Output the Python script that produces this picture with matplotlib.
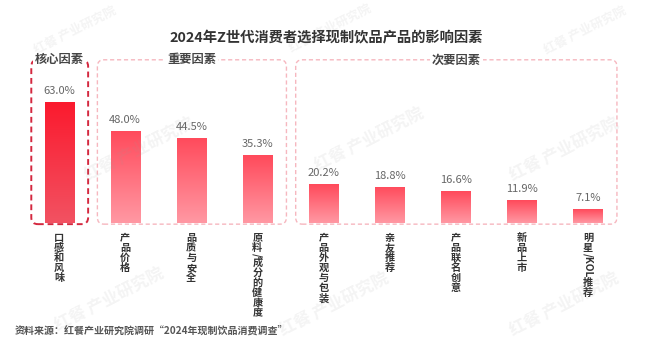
import matplotlib
matplotlib.use('Agg')
import matplotlib.pyplot as plt
import numpy as np
from matplotlib.patches import FancyBboxPatch
from matplotlib.colors import to_rgb

plt.rcParams['font.family'] = ['Noto Sans CJK SC', 'DejaVu Sans']

title = '2024年Z世代消费者选择现制饮品产品的影响因素'
source = '资料来源：红餐产业研究院调研“2024年现制饮品消费调查”'
categories = ['口感和风味', '产品价格', '品质与安全', '原料/成分的健康度', '产品外观与包装',
              '亲友推荐', '产品联名创意', '新品上市', '明星/KOL推荐']
values = [63.0, 48.0, 44.5, 35.3, 20.2, 18.8, 16.6, 11.9, 7.1]
groups = ['核心因素', '重要因素', '次要因素']
group_members = [[0], [1, 2, 3], [4, 5, 6, 7, 8]]

W, H = 660, 358
fig = plt.figure(figsize=(W / 100, H / 100), dpi=100)
px_x = 66.1   # pixels per category
px_y = 1.92   # pixels per percent
ax = fig.add_axes([26 / W, (H - 223) / H, 9 * px_x / W, 90 * px_y / H])
x = np.arange(len(values))
bars = ax.bar(x, values, width=0.44, color='none', edgecolor='none', zorder=2)

# vertical gradient fill for every bar
for i, b in enumerate(bars):
    if i == 0:
        top, bot = to_rgb('#fb1a2e'), to_rgb('#f25262')
    else:
        top, bot = to_rgb('#ff4a5b'), to_rgb('#ff98a3')
    t = np.linspace(0, 1, 128).reshape(-1, 1, 1)
    img = (1 - t) * np.array(top) + t * np.array(bot)
    img = np.repeat(img, 2, axis=1)
    im = ax.imshow(img, extent=[b.get_x(), b.get_x() + b.get_width(), 0, b.get_height()],
                   aspect='auto', zorder=2, interpolation='bilinear')
    im.set_clip_path(b)
    ax.annotate(f'{values[i]:.1f}%', (x[i], values[i]), xytext=(0, 6),
                textcoords='offset pixels', ha='center', va='bottom',
                fontsize=8, color='#666666')

ax.set_xlim(-0.5, 8.5)
ax.set_ylim(0, 90)
ax.axis('off')

# dashed group boxes
for k, (name, mem) in enumerate(zip(groups, group_members)):
    x0, x1 = min(mem) - 0.42, max(mem) + 0.44
    y0, y1 = -0.6, 85
    ec = '#d4283f' if k == 0 else '#f6b7bf'
    lw = 1.4 if k == 0 else 1.0
    box = FancyBboxPatch((x0, y0), x1 - x0, y1 - y0,
                         boxstyle='round,pad=0,rounding_size=0.1',
                         mutation_aspect=px_x / px_y, fill=False, ec=ec, lw=lw,
                         ls=(0, (3, 2)), clip_on=False, zorder=1)
    ax.add_patch(box)
    ax.text((x0 + x1) / 2, y1, name, ha='center', va='center', fontsize=8.8,
            fontweight='bold', color='#444444', zorder=3,
            bbox=dict(fc='white', ec='none', pad=1.5))

# stacked vertical category labels
renderer = fig.canvas.get_renderer()
for i, lab in enumerate(categories):
    runs = []
    for ch in lab:
        if ord(ch) < 128 and runs and runs[-1][1]:
            runs[-1][0] += ch
        else:
            runs.append([ch, ord(ch) < 128])
    off = 10
    for txt, latin in runs:
        t = ax.annotate(txt, (x[i], 0), xytext=(0, -off), textcoords='offset pixels',
                        ha='center', va='top', fontsize=7.3, fontweight='bold',
                        color='#333333', rotation=-90 if latin else 0,
                        annotation_clip=False)
        if latin:
            off += t.get_window_extent(renderer).height + 1
        else:
            off += 10

# faint watermarks
marks = [(75, 30, 9), (330, 28, 9), (585, 30, 9), (140, 150, 12), (370, 140, 12),
         (565, 150, 12), (110, 300, 12), (335, 305, 12), (565, 305, 12)]
for wx, wy, fs in marks:
    fig.text(wx / W, 1 - wy / H, '红餐 产业研究院', rotation=27, ha='center', va='center',
             fontsize=fs, color='#999999', alpha=0.11, fontweight='bold', zorder=5)

fig.text(0.494, 1 - 38 / H, title, ha='center', va='center', fontsize=10.3,
         fontweight='bold', color='#333333')
fig.text(15 / W, 1 - 330 / H, source, ha='left', va='center', fontsize=7.2,
         color='#555555', fontweight='bold')

fig.savefig('out.png', dpi=100, facecolor='white')
